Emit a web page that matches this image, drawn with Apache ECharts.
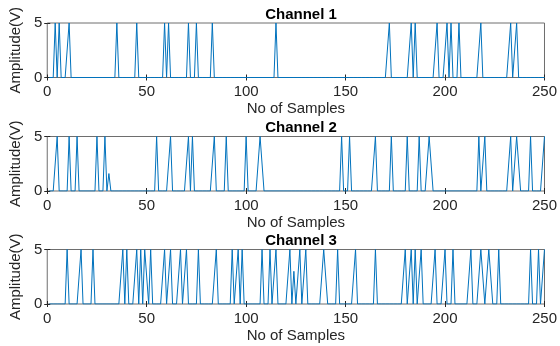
<!DOCTYPE html>
<html>
<head>
<meta charset="utf-8">
<script src="https://cdn.jsdelivr.net/npm/echarts@6/dist/echarts.min.js"></script>
<style>
  html, body { margin: 0; padding: 0; background: #fff; }
  #main { width: 560px; height: 346px; }
</style>
</head>
<body>
<div id="main"></div>
<script>
// samples (1..250) where each channel reads 5 V, everything else is 0
var channel1Pulses = [4, 6, 11, 35, 45, 59, 61, 71, 75, 83, 115, 172, 183, 185, 196, 201, 203, 207, 218, 233, 236];
var channel2Pulses = [5, 11, 15, 25, 29, 55, 62, 71, 73, 84, 90, 100, 107, 108, 148, 152, 165, 173, 181, 187, 192, 193, 217, 220, 233, 236, 237, 243, 250];
var channel3Pulses = [10, 17, 23, 38, 40, 45, 47, 49, 50, 52, 59, 62, 67, 70, 76, 85, 93, 96, 98, 108, 112, 115, 122, 127, 130, 139, 140, 146, 155, 165, 180, 183, 185, 188, 195, 200, 204, 213, 218, 219, 222, 223, 227, 243, 247, 250];
// partial readings [sample, volts]
var channel2Partial = [[31, 1.6]];
var channel3Partial = [[124, 3.0]];

var sampleCount = 250;
var pulseHigh = 5;
var titles = ['Channel 1', 'Channel 2', 'Channel 3'];

function buildSeries(pulses, partial) {
    var data = [];
    for (var n = 1; n <= sampleCount; n++) {
        data.push([n, 0]);
    }
    pulses.forEach(function (p) { data[p - 1][1] = pulseHigh; });
    partial.forEach(function (p) { data[p[0] - 1][1] = p[1]; });
    return data;
}

var channels = [
    buildSeries(channel1Pulses, []),
    buildSeries(channel2Pulses, channel2Partial),
    buildSeries(channel3Pulses, channel3Partial)
];

var tops = [23, 136.5, 249.5];
var plotH = 54.5;
var txt = '#262626';
var font = 'Liberation Sans, Arial, sans-serif';
var fs = 15;

var chart = echarts.init(document.getElementById('main'));

var option = {
    animation: false,
    backgroundColor: '#fff',
    title: [],
    grid: [],
    xAxis: [],
    yAxis: [],
    series: []
};

channels.forEach(function (data, i) {
    option.title.push({
        text: titles[i],
        left: 296,
        top: tops[i] - 21,
        textAlign: 'center',
        textStyle: { fontFamily: font, fontSize: fs, fontWeight: 'bold', color: '#000' }
    });
    option.grid.push({
        left: 47, right: 14, top: tops[i], height: plotH,
        show: true, borderColor: '#6e6e6e', borderWidth: 1
    });
    // bottom axis with labels
    option.xAxis.push({
        type: 'value', gridIndex: i, min: 0, max: 250, interval: 50,
        name: 'No of Samples', nameLocation: 'middle', nameGap: 24,
        nameTextStyle: { fontFamily: font, fontSize: fs, color: txt },
        axisLine: { show: false },
        axisTick: { show: true, inside: true, length: 3, lineStyle: { color: txt } },
        axisLabel: { fontFamily: font, fontSize: fs, color: txt, margin: 7 },
        splitLine: { show: false }
    });
    // top ticks
    option.xAxis.push({
        type: 'value', gridIndex: i, min: 0, max: 250, interval: 50, position: 'top',
        axisLine: { show: false },
        axisTick: { show: true, inside: true, length: 3, lineStyle: { color: txt } },
        axisLabel: { show: false },
        splitLine: { show: false }
    });
    option.yAxis.push({
        type: 'value', gridIndex: i, min: 0, max: 5, interval: 5,
        name: 'Amplitude(V)', nameLocation: 'middle', nameGap: 19, nameRotate: 90,
        nameTextStyle: { fontFamily: font, fontSize: fs, color: txt },
        axisLine: { show: false },
        axisTick: { show: true, inside: true, length: 3, lineStyle: { color: txt } },
        axisLabel: { fontFamily: font, fontSize: fs, color: txt, margin: 5 },
        splitLine: { show: false }
    });
    option.yAxis.push({
        type: 'value', gridIndex: i, min: 0, max: 5, interval: 5, position: 'right',
        axisLine: { show: false },
        axisTick: { show: true, inside: true, length: 3, lineStyle: { color: txt } },
        axisLabel: { show: false },
        splitLine: { show: false }
    });
    option.series.push({
        type: 'line',
        xAxisIndex: i * 2,
        yAxisIndex: i * 2,
        data: data,
        showSymbol: false,
        symbol: 'none',
        lineStyle: { color: '#0072BD', width: 1 },
        z: 1
    });
});

chart.setOption(option);
</script>
</body>
</html>
